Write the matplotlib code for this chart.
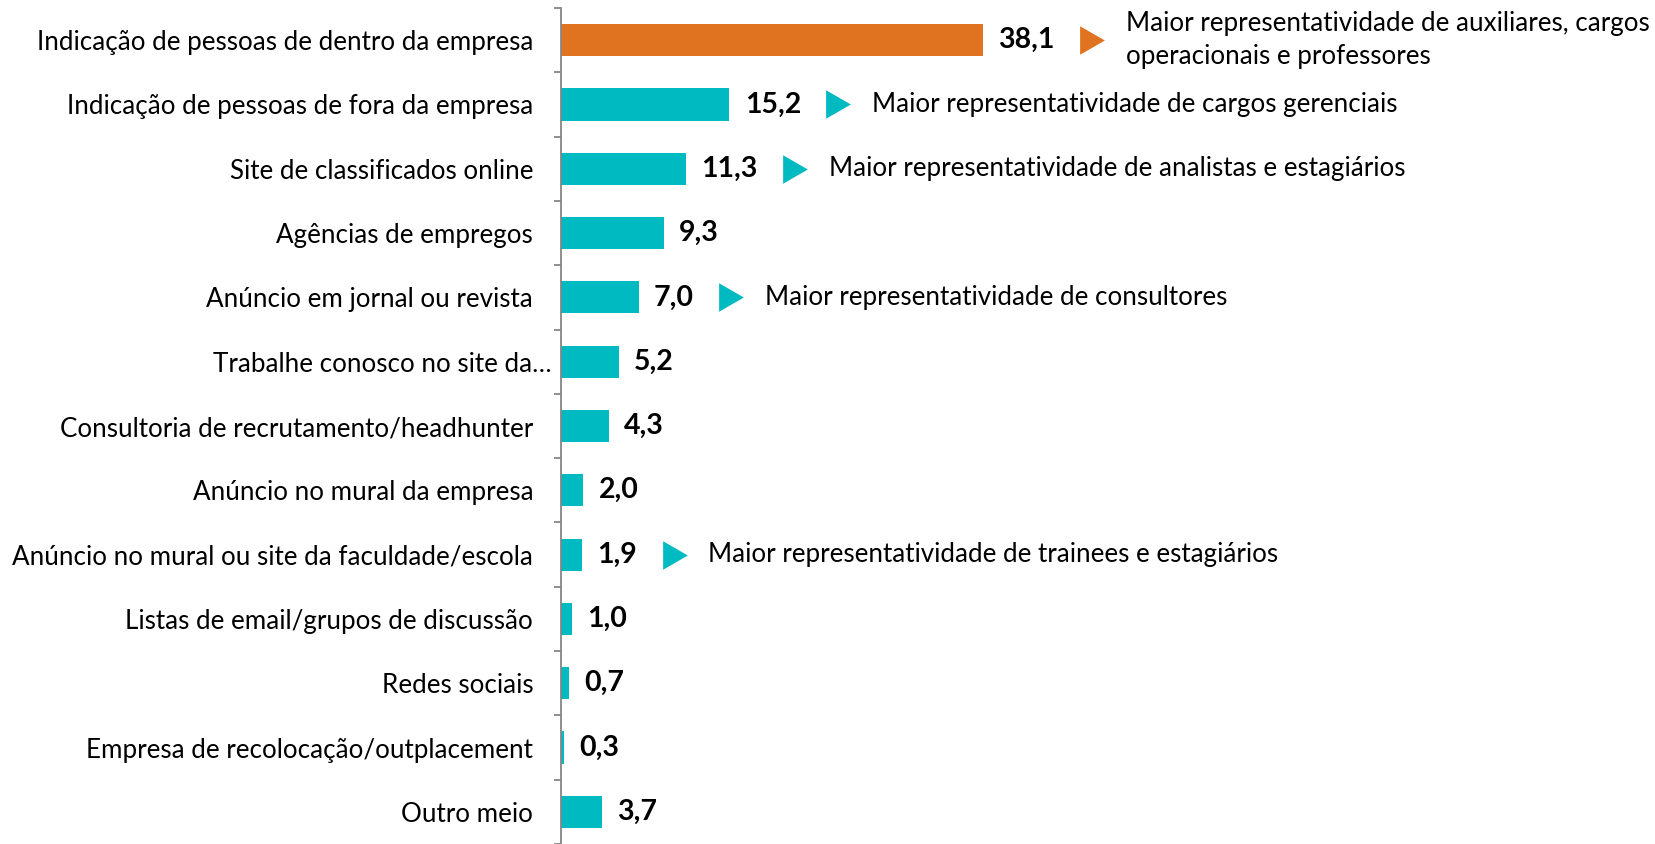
import matplotlib
matplotlib.use("Agg")
import matplotlib.pyplot as plt
from matplotlib.ticker import FixedLocator
from matplotlib.transforms import ScaledTranslation

categories = [
    "Indicação de pessoas de dentro da empresa",
    "Indicação de pessoas de fora da empresa",
    "Site de classificados online",
    "Agências de empregos",
    "Anúncio em jornal ou revista",
    "Trabalhe conosco no site da…",
    "Consultoria de recrutamento/headhunter",
    "Anúncio no mural da empresa",
    "Anúncio no mural ou site da faculdade/escola",
    "Listas de email/grupos de discussão",
    "Redes sociais",
    "Empresa de recolocação/outplacement",
    "Outro meio",
]
values = [38.1, 15.2, 11.3, 9.3, 7.0, 5.2, 4.3, 2.0, 1.9, 1.0, 0.7, 0.3, 3.7]
value_labels = ["38,1", "15,2", "11,3", "9,3", "7,0", "5,2", "4,3", "2,0", "1,9", "1,0", "0,7", "0,3", "3,7"]
notes = {
    0: "Maior representatividade de auxiliares, cargos\noperacionais e professores",
    1: "Maior representatividade de cargos gerenciais",
    2: "Maior representatividade de analistas e estagiários",
    4: "Maior representatividade de consultores",
    8: "Maior representatividade de trainees e estagiários",
}

ORANGE = "#E07320"
TEAL = "#00BAC1"
FONT = "Lato"
FS = 18.7
FS_VAL = 20.5

plt.rcParams["font.family"] = [FONT, "DejaVu Sans"]

W, H = 1656, 844
fig = plt.figure(figsize=(W / 100, H / 100), dpi=100)
ax_left = 561 / W
ax_top_px = 8
ax_h = (H - ax_top_px) / H
ax = fig.add_axes([ax_left, 0.0, 1 - ax_left, ax_h])

px_per_unit = 11.08
ax.set_xlim(0, (W - 561) / px_per_unit)
n = len(categories)
ax.set_ylim(n - 0.5, -0.5)

colors = [ORANGE] + [TEAL] * (n - 1)
ypos = list(range(n))
ax.barh(ypos, values, height=0.5, color=colors)

for s in ["top", "right", "bottom"]:
    ax.spines[s].set_visible(False)
ax.spines["left"].set_color("#868686")
ax.spines["left"].set_linewidth(1.3)
ax.set_xticks([])

ax.yaxis.set_major_locator(FixedLocator(ypos))
ax.set_yticklabels(categories, fontsize=FS, color="#000000")
ax.yaxis.set_minor_locator(FixedLocator([i - 0.5 for i in range(n + 1)]))
ax.tick_params(axis="y", which="major", length=0, pad=20)
ax.tick_params(axis="y", which="minor", length=5, width=1.3, color="#868686")

# the truncated label sits closer to the axis in the original
lbl = ax.get_yticklabels()[5]
lbl.set_transform(lbl.get_transform() + ScaledTranslation(18 / 100, 0, fig.dpi_scale_trans))

val_texts = []
for i, (v, lab) in enumerate(zip(values, value_labels)):
    t = ax.annotate(lab, xy=(v, i), xytext=(11, 0), textcoords="offset points",
                    ha="left", va="center", fontsize=FS_VAL, fontweight="bold", color="#000000")
    val_texts.append(t)

tri = [(-1, -1.15), (1, 0), (-1, 1.15)]
fig.canvas.draw()
renderer = fig.canvas.get_renderer()
inv = ax.transData.inverted()
for i, note in notes.items():
    bb = val_texts[i].get_window_extent(renderer)
    y_disp = ax.transData.transform((0, i))[1]
    tri_center_x = bb.x1 + 25 + 12.5
    xd, _ = inv.transform((tri_center_x, y_disp))
    c = ORANGE if i == 0 else TEAL
    ax.plot([xd], [i], marker=tri, ms=20.5, color=c, mec=c, mew=0, clip_on=False)
    xt, _ = inv.transform((tri_center_x + 12.5 + 21, y_disp))
    ax.text(xt, i, note, ha="left", va="center", fontsize=FS, color="#000000",
            linespacing=1.4, clip_on=False)

fig.savefig("out.png", dpi=100)
